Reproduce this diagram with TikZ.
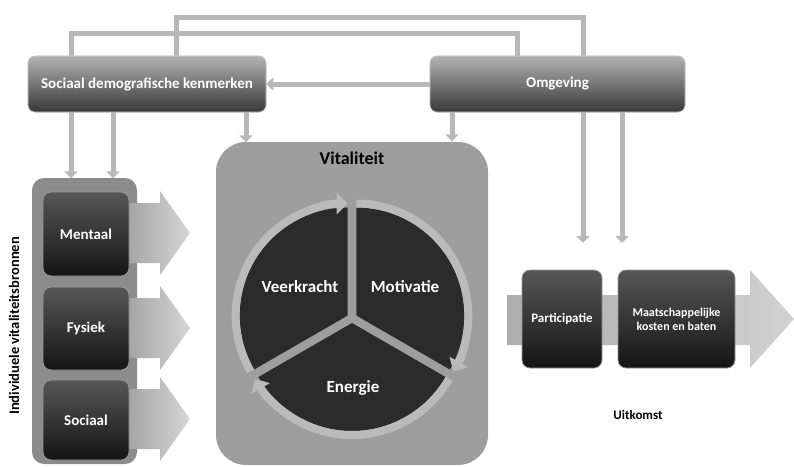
\documentclass[tikz,border=0pt]{standalone}
\usepackage{fontspec}
\setmainfont{Carlito}
\usetikzlibrary{arrows.meta,calc}
\begin{document}
\begin{tikzpicture}[x=1pt,y=1pt,
  conn/.style={draw=black!28, line width=5pt},
  connarrow/.style={conn, -{Triangle[width=13pt,length=7pt]}},
  topbox/.style={rounded corners=7pt, top color=black!30, bottom color=black!78, draw=black!20, line width=0.6pt, text=white, font=\bfseries\fontsize{15}{18}\selectfont, inner sep=0pt},
  darkbox/.style={rounded corners=8pt, top color=black!66, bottom color=black!92, draw=black!40, line width=0.8pt, text=white, inner sep=0pt, align=center},
  chev/.style={left color=black!38, right color=black!16, draw=none},
  sector/.style={fill=black!83},
  ring/.style={draw=black!27, line width=8pt, -{Triangle[width=21pt,length=11pt]}},
  seclabel/.style={text=white, font=\bfseries\fontsize{17}{20}\selectfont},
  blacklabel/.style={text=black, font=\bfseries\fontsize{13}{15}\selectfont}
]
\useasboundingbox (0,0) rectangle (794,-466);

% nodes that connectors attach to (drawn later on top)
\path (147,-84) node[topbox, minimum width=238pt, minimum height=56pt] (sd) {};
\path (557.5,-84) node[topbox, minimum width=255pt, minimum height=56pt] (om) {};
\coordinate (o1) at (583,-243);
\coordinate (o2) at (622,-243);

% connectors
\draw[connarrow] ([xshift=29pt]sd.north) -- ++(0,38) -| (o1);
\draw[conn] ([xshift=-76pt]sd.north) -- ++(0,22) -| ([xshift=-40.5pt]om.north);
\draw[connarrow] (om.west) -- (sd.east);
\draw[connarrow] ([xshift=-76pt]sd.south) -- ++(0,-66);
\draw[connarrow] ([xshift=-34pt]sd.south) -- ++(0,-66);
\draw[connarrow] ([xshift=99pt]sd.south) -- ++(0,-30);
\draw[connarrow] ([xshift=-105.5pt]om.south) -- ++(0,-29);
\draw[connarrow] (om.south -| o2) -- (o2);

% top boxes
\node[topbox, minimum width=238pt, minimum height=56pt] (sd2) at (sd) {Sociaal demografische kenmerken};
\node[topbox, minimum width=255pt, minimum height=56pt] (om2) at (om) {Omgeving};

% left container
\node[rounded corners=12pt, fill=black!45, minimum width=105pt, minimum height=286pt, inner sep=0pt] (lc) at (84.5,-321) {};
\node[rotate=90, blacklabel, font=\bfseries\fontsize{14.5}{17}\selectfont] (ivb) at (14,-326) {Individuele vitaliteitsbronnen};

% chevrons
\foreach \c in {233,328,419}{
  \path[chev] (120,-\c+30) -- (160,-\c+30) -- (160,-\c+42) -- (190,-\c) -- (160,-\c-42) -- (160,-\c-30) -- (120,-\c-30) -- cycle;
}

\node[darkbox, minimum width=86pt, minimum height=84pt, font=\bfseries\fontsize{15}{18}\selectfont] (men) at (86,-234) {Mentaal};
\node[darkbox, minimum width=86pt, minimum height=83pt, font=\bfseries\fontsize{15}{18}\selectfont] (fys) at (86,-328.5) {Fysiek};
\node[darkbox, minimum width=86pt, minimum height=80pt, font=\bfseries\fontsize{15}{18}\selectfont] (soc) at (86,-420) {Sociaal};

% Vitaliteit container
\node[rounded corners=30pt, fill=black!38, minimum width=272pt, minimum height=323pt, inner sep=0pt] (vit) at (352,-303.5) {};
\node[text=black, font=\bfseries\fontsize{18}{21}\selectfont] (vt) at (352,-158) {Vitaliteit};

% cycle
\coordinate (C) at (352,-318);
\coordinate (Pv) at ($(C)+(150:5)$);
\coordinate (Pm) at ($(C)+(30:5)$);
\coordinate (Pe) at ($(C)+(270:5)$);
\fill[sector] (Pv) -- ++(90:108) arc[start angle=90, end angle=210, radius=108] -- cycle;
\fill[sector] (Pm) -- ++(-30:108) arc[start angle=-30, end angle=90, radius=108] -- cycle;
\fill[sector] (Pe) -- ++(210:108) arc[start angle=210, end angle=330, radius=108] -- cycle;
\draw[ring] ($(Pv)+(210:112)$) arc[start angle=210, end angle=90, radius=112];
\draw[ring] ($(Pm)+(90:112)$) arc[start angle=90, end angle=-30, radius=112];
\draw[ring] ($(Pe)+(330:112)$) arc[start angle=330, end angle=210, radius=112];
\node[seclabel] (vk) at (300,-287) {Veerkracht};
\node[seclabel] (mo) at (405,-287) {Motivatie};
\node[seclabel] (en) at (353,-388) {Energie};

% outcome arrow
\path[left color=black!32, right color=black!18] (507,-295) -- (750,-295) -- (750,-270) -- (794,-319) -- (750,-368) -- (750,-345) -- (507,-345) -- cycle;
\node[darkbox, minimum width=80pt, minimum height=98pt, font=\bfseries\fontsize{13}{15}\selectfont] (par) at (562,-319) {Participatie};
\node[darkbox, minimum width=117pt, minimum height=98pt, font=\bfseries\fontsize{12}{14}\selectfont] (mkb) at (676.5,-319) {Maatschappelijke\\kosten en baten};
\node[blacklabel] (uit) at (638,-415) {Uitkomst};
\end{tikzpicture}
\end{document}
